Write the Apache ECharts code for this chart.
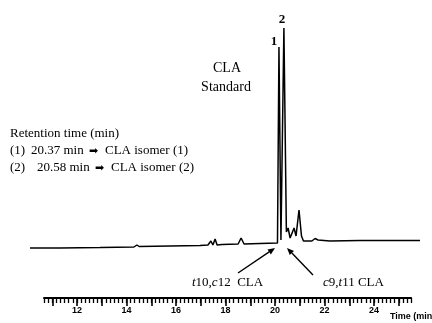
<!DOCTYPE html>
<html>
<head>
<meta charset="utf-8">
<script src="https://cdn.jsdelivr.net/npm/echarts@6/dist/echarts.min.js"></script>
<style>html,body{margin:0;padding:0;background:#fff;}#c{width:432px;height:323px;}</style>
</head>
<body>
<div id="c"></div>
<script>
// Retention time (min)
const times = [10.10, 11.31, 12.93, 14.30, 14.42, 14.51, 15.76, 16.97, 17.29, 17.41, 17.49, 17.58, 17.66, 17.86,
  18.51, 18.63, 18.75, 19.39, 20.10, 20.16, 20.24, 20.29, 20.36, 20.46, 20.53, 20.61, 20.69, 20.77, 20.85,
  20.97, 21.07, 21.15, 21.29, 21.37, 21.49, 21.62, 21.74, 22.22, 23.43, 25.86];
// Detector response (arbitrary units)
const signal = [50, 50, 50.5, 51, 53, 51.5, 52, 52.5, 53, 57, 53, 59, 53, 53.5,
  54, 60, 54, 54.5, 55, 251, 58, 56, 270, 66, 70, 60, 62, 70, 62,
  88, 62, 57, 57, 59, 57, 59.5, 58, 57, 57.5, 57.5];
const tickLabels = [12, 14, 16, 18, 20, 22, 24];
const peakLabels = ['1', '2'];

const X_MIN = 64 / 6, X_MAX = 25.5, PX_PER_MIN = 24.75, LEFT = 44;
const rightOf = v => 432 - (LEFT + (v - X_MIN) * PX_PER_MIN);
const leftOf = v => LEFT + (v - X_MIN) * PX_PER_MIN;

function arrow(x1, y1, x2, y2) {
  const dx = x2 - x1, dy = y2 - y1, L = Math.hypot(dx, dy);
  const ux = dx / L, uy = dy / L, nx = -uy, ny = ux;
  const hl = 7, hw = 3;
  const bx = x2 - hl * ux, by = y2 - hl * uy;
  return [
    { type: 'line', shape: { x1: x1, y1: y1, x2: bx, y2: by }, style: { stroke: '#000', lineWidth: 1.4 } },
    { type: 'polygon', shape: { points: [[x2, y2], [bx + hw * nx, by + hw * ny], [bx - hw * nx, by - hw * ny]] }, style: { fill: '#000' } }
  ];
}

const serif = '"Liberation Serif", "DejaVu Serif", serif';
function txt(text, x, y, size, opts) {
  return Object.assign({ type: 'text', style: Object.assign({ text: text, x: x, y: y,
    font: (opts && opts.weight ? opts.weight + ' ' : '') + size + 'px ' + serif,
    fill: '#000', textAlign: 'left', textVerticalAlign: 'middle' }, (opts && opts.style) || {}) });
}

const chart = echarts.init(document.getElementById('c'), null, { renderer: 'canvas' });
const graphics = [
  txt('CLA', 227, 68, 14, { style: { textAlign: 'center' } }),
  txt('Standard', 226, 87, 14, { style: { textAlign: 'center' } }),
  txt(peakLabels[0], 274, 42, 13, { weight: 'bold', style: { textAlign: 'center' } }),
  txt(peakLabels[1], 282, 20, 13, { weight: 'bold', style: { textAlign: 'center' } }),
  txt('Retention time (min)', 10, 134, 13),
  txt('(1)', 10, 151, 13),
  txt('20.37 min', 31, 151, 13),
  txt('➡', 89, 151, 11, { style: { font: '11px "DejaVu Sans"' } }),
  txt('CLA isomer (1)', 105, 151, 13),
  txt('(2)', 10, 168, 13),
  txt('20.58 min', 37, 168, 13),
  txt('➡', 95, 168, 11, { style: { font: '11px "DejaVu Sans"' } }),
  txt('CLA isomer (2)', 111, 168, 13),
  { type: 'text', style: { text: '{i|t}10,{i|c}12  CLA', x: 192, y: 283, font: '13px ' + serif, fill: '#000',
      textVerticalAlign: 'middle', rich: { i: { fontStyle: 'italic', fontFamily: serif, fontSize: 13 } } } },
  { type: 'text', style: { text: '{i|c}9,{i|t}11 CLA', x: 323, y: 283, font: '13px ' + serif, fill: '#000',
      textVerticalAlign: 'middle', rich: { i: { fontStyle: 'italic', fontFamily: serif, fontSize: 13 } } } },
  { type: 'text', style: { text: 'Time (min)', x: 390, y: 317, font: 'bold 9px "Liberation Sans", Arial, sans-serif',
      fill: '#000', textVerticalAlign: 'middle' } }
].concat(arrow(238, 273, 275, 248), arrow(313, 275, 287, 248));

chart.setOption({
  animation: false,
  backgroundColor: '#fff',
  grid: [
    { left: LEFT, right: rightOf(X_MAX), top: 18, bottom: 25 },
    { left: leftOf(11), right: rightOf(25), top: 18, bottom: 25 },
    { left: leftOf(10), right: rightOf(26), top: 18, bottom: 25 }
  ],
  xAxis: [
    { type: 'value', gridIndex: 0, min: X_MIN, max: X_MAX, interval: 1 / 6,
      axisLine: { lineStyle: { color: '#000', width: 2 } },
      axisTick: { length: 5, lineStyle: { color: '#000', width: 1.3 } },
      axisLabel: { show: false }, splitLine: { show: false } },
    { type: 'value', gridIndex: 1, min: 11, max: 25, interval: 1,
      axisLine: { show: false },
      axisTick: { length: 8, lineStyle: { color: '#000', width: 1.6 } },
      axisLabel: { interval: 0, margin: 8, fontSize: 9, fontWeight: 900, color: '#000',
        fontFamily: '"Liberation Sans", Arial, sans-serif',
        formatter: v => tickLabels.indexOf(Math.round(v)) >= 0 ? String(Math.round(v)) : '' },
      splitLine: { show: false } },
    { type: 'value', gridIndex: 2, min: 10, max: 26, show: false, splitLine: { show: false } }
  ],
  yAxis: [
    { type: 'value', gridIndex: 0, min: 0, max: 280, show: false, splitLine: { show: false } },
    { type: 'value', gridIndex: 1, min: 0, max: 280, show: false, splitLine: { show: false } },
    { type: 'value', gridIndex: 2, min: 0, max: 280, show: false, splitLine: { show: false } }
  ],
  series: [{
    type: 'line', xAxisIndex: 2, yAxisIndex: 2, clip: false, symbol: 'none', smooth: false,
    lineStyle: { color: '#000', width: 1.5 },
    data: times.map((t, i) => [t, signal[i]])
  }],
  graphic: graphics
});
</script>
</body>
</html>
